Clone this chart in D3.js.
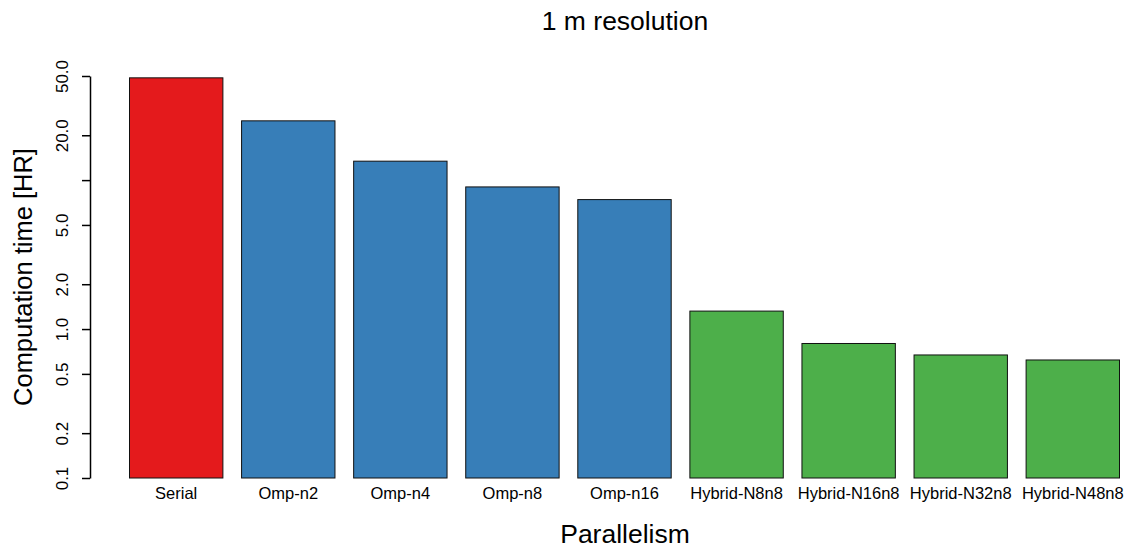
<!DOCTYPE html>
<html>
<head>
<meta charset="utf-8">
<script src="https://cdn.jsdelivr.net/npm/d3@7"></script>
<style>
  body { margin: 0; background: #fff; }
  svg { display: block; font-family: "Liberation Sans", Arial, sans-serif; }
</style>
</head>
<body>
<div id="chart"></div>
<script>
// Data (hours, log scale)
const categories = ['Serial', 'Omp-n2', 'Omp-n4', 'Omp-n8', 'Omp-n16',
    'Hybrid-N8n8', 'Hybrid-N16n8', 'Hybrid-N32n8', 'Hybrid-N48n8'];
const hours = [48.6, 25.0, 13.4, 9.0, 7.4, 1.32, 0.80, 0.67, 0.62];
const groups = ['serial', 'omp', 'omp', 'omp', 'omp', 'hybrid', 'hybrid', 'hybrid', 'hybrid'];
const yTicks = [0.1, 0.2, 0.5, 1, 2, 5, 10, 20, 50];
const yTickLabels = ['0.1', '0.2', '0.5', '1.0', '2.0', '5.0', '', '20.0', '50.0'];

const width = 1131, height = 549;

const svg = d3.select('#chart')
    .append('svg')
    .attr('width', width)
    .attr('height', height);

const color = d3.scaleOrdinal()
    .domain(['serial', 'omp', 'hybrid'])
    .range(['#E41A1C', '#377EB8', '#4DAF4A']);

const x = d3.scaleBand()
    .domain(categories)
    .range([129.5, 1119.5])
    .paddingInner(0.1667)
    .paddingOuter(0);

const y = d3.scaleLog()
    .domain([0.1, 50])
    .range([478, 76]);

// Bars
svg.append('g')
    .selectAll('rect')
    .data(categories)
    .join('rect')
    .attr('x', d => x(d))
    .attr('width', x.bandwidth())
    .attr('y', (d, i) => y(hours[i]))
    .attr('height', (d, i) => y(0.1) - y(hours[i]))
    .attr('fill', (d, i) => color(groups[i]))
    .attr('stroke', '#111')
    .attr('stroke-width', 1);

// Category labels under bars
svg.append('g')
    .selectAll('text')
    .data(categories)
    .join('text')
    .attr('x', d => x(d) + x.bandwidth() / 2)
    .attr('y', 499)
    .attr('text-anchor', 'middle')
    .attr('font-size', 16.5)
    .attr('fill', '#000')
    .text(d => d);

// Y axis
const yAxis = svg.append('g')
    .attr('transform', 'translate(90,0)')
    .call(d3.axisLeft(y)
        .tickValues(yTicks)
        .tickFormat((d, i) => yTickLabels[i])
        .tickSize(8)
        .tickSizeOuter(0));

yAxis.select('.domain')
    .attr('stroke', '#000')
    .attr('stroke-width', 1.5);
yAxis.selectAll('.tick line')
    .attr('stroke', '#000')
    .attr('stroke-width', 1.5);
yAxis.selectAll('.tick text')
    .attr('transform', 'rotate(-90)')
    .attr('x', 0)
    .attr('y', -22)
    .attr('dy', 0)
    .attr('text-anchor', 'middle')
    .attr('font-size', 17)
    .attr('font-family', '"Liberation Sans", Arial, sans-serif')
    .attr('fill', '#000');

// Title and axis titles
svg.append('text')
    .attr('x', 625)
    .attr('y', 30)
    .attr('text-anchor', 'middle')
    .attr('font-size', 26.5)
    .text('1 m resolution');

svg.append('text')
    .attr('x', 625)
    .attr('y', 543)
    .attr('text-anchor', 'middle')
    .attr('font-size', 26.5)
    .text('Parallelism');

svg.append('text')
    .attr('transform', 'translate(32,277) rotate(-90)')
    .attr('text-anchor', 'middle')
    .attr('font-size', 25.5)
    .text('Computation time [HR]');
</script>
</body>
</html>
